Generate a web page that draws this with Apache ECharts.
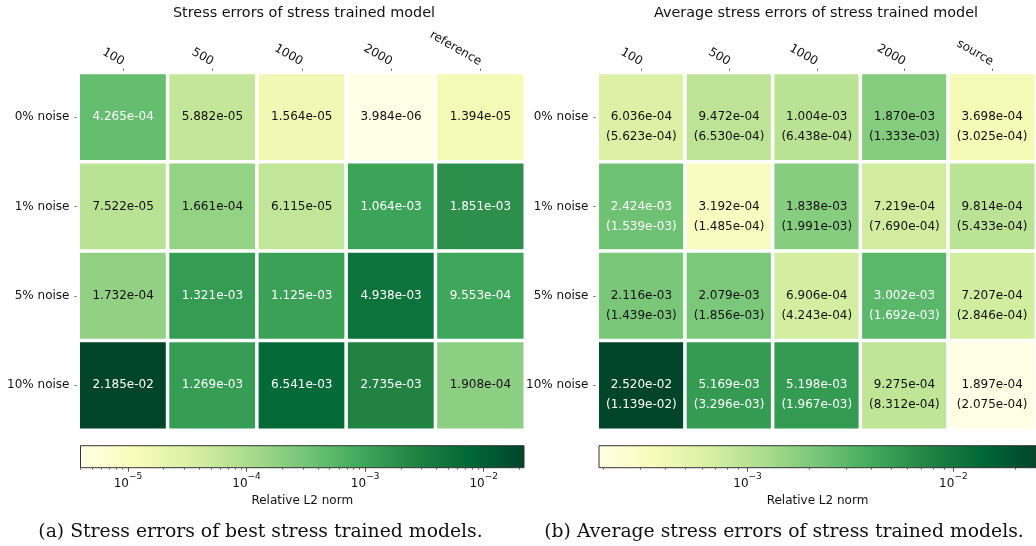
<!DOCTYPE html>
<html>
<head>
<meta charset="utf-8">
<script src="https://cdn.jsdelivr.net/npm/echarts@6/dist/echarts.min.js"></script>
<style>
  html, body { margin: 0; padding: 0; background: #ffffff; }
  #chart { width: 1036px; height: 546px; }
</style>
</head>
<body>
<div id="chart"></div>
<script>
// Row / column labels
const rowLabels = ['0% noise', '1% noise', '5% noise', '10% noise'];
const bestCols = ['100', '500', '1000', '2000', 'reference'];
const avgCols = ['100', '500', '1000', '2000', 'source'];

// (a) best stress errors, one row per noise level
const bestErrors = [
  [4.265e-04, 5.882e-05, 1.564e-05, 3.984e-06, 1.394e-05],
  [7.522e-05, 1.661e-04, 6.115e-05, 1.064e-03, 1.851e-03],
  [1.732e-04, 1.321e-03, 1.125e-03, 4.938e-03, 9.553e-04],
  [2.185e-02, 1.269e-03, 6.541e-03, 2.735e-03, 1.908e-04]
];

// (b) average stress errors and their standard deviations
const avgErrors = [
  [6.036e-04, 9.472e-04, 1.004e-03, 1.870e-03, 3.698e-04],
  [2.424e-03, 3.192e-04, 1.838e-03, 7.219e-04, 9.814e-04],
  [2.116e-03, 2.079e-03, 6.906e-04, 3.002e-03, 7.207e-04],
  [2.520e-02, 5.169e-03, 5.198e-03, 9.275e-04, 1.897e-04]
];
const avgStd = [
  [5.623e-04, 6.530e-04, 6.438e-04, 1.333e-03, 3.025e-04],
  [1.539e-03, 1.485e-04, 1.991e-03, 7.690e-04, 5.433e-04],
  [1.439e-03, 1.856e-03, 4.243e-04, 1.692e-03, 2.846e-04],
  [1.139e-02, 3.296e-03, 1.967e-03, 8.312e-04, 2.075e-04]
];

// YlGn colour map
const YLGN = ['#ffffe5', '#f7fcb9', '#d9f0a3', '#addd8e', '#78c679',
              '#41ab5d', '#238443', '#006837', '#004529'];

const FONT = 'DejaVu Sans';

function sci(v) {
  const parts = v.toExponential(3).split('e');
  const n = parseInt(parts[1], 10);
  return parts[0] + 'e' + (n < 0 ? '-' : '+') + String(Math.abs(n)).padStart(2, '0');
}

function logRange(table) {
  const flat = table.flat();
  return [Math.log10(Math.min(...flat)), Math.log10(Math.max(...flat))];
}

function cells(vals, std, lo, hi) {
  const out = [];
  vals.forEach((row, r) => row.forEach((v, c) => {
    const lv = Math.log10(v);
    const t = (lv - lo) / (hi - lo);
    out.push({
      value: [c, r, lv],
      raw: v,
      sd: std ? std[r][c] : null,
      label: { color: t > 0.5 ? '#ffffff' : '#111111' }
    });
  }));
  return out;
}

function majorTicks(lo, hi) {
  const out = [];
  for (let n = Math.ceil(lo); n <= Math.floor(hi); n++) out.push(n);
  return out;
}
function minorTicks(lo, hi) {
  const out = [];
  for (let n = Math.floor(lo); n <= Math.ceil(hi); n++) {
    for (let k = 2; k <= 9; k++) {
      const v = n + Math.log10(k);
      if (v >= lo && v <= hi) out.push(v);
    }
  }
  return out;
}

const [bLo, bHi] = logRange(bestErrors);
const [aLo, aHi] = logRange(avgErrors);

const heatGrids = [
  { left: 78.5, top: 72.7, width: 446.5, height: 357.3 },
  { left: 597.5, top: 72.7, width: 446.5, height: 357.3 }
];
const barGrids = [
  { left: 80.5, top: 445.7, width: 443.5, height: 22 },
  { left: 599, top: 445.7, width: 443, height: 22 }
];

function heatX(i, cols) {
  return {
    type: 'category', gridIndex: i, data: cols, position: 'top',
    axisLine: { show: false },
    splitLine: { show: false },
    axisTick: { show: true, alignWithLabel: true, length: 4, lineStyle: { color: '#333', width: 0.8 } },
    axisLabel: { rotate: 30, margin: 10, fontFamily: FONT, fontSize: 12, color: '#111' }
  };
}
function heatY(i) {
  return {
    type: 'category', gridIndex: i, data: rowLabels, inverse: true,
    axisLine: { show: false },
    splitLine: { show: false },
    axisTick: { show: true, alignWithLabel: true, length: 4, lineStyle: { color: '#333', width: 0.8 } },
    axisLabel: { margin: 9, fontFamily: FONT, fontSize: 12, color: '#111' }
  };
}
function barMajorX(i, lo, hi) {
  const majors = majorTicks(lo, hi);
  return {
    type: 'value', gridIndex: i, min: lo, max: hi, position: 'bottom',
    axisLine: { show: false }, splitLine: { show: false },
    axisTick: { show: true, customValues: majors, length: 4, lineStyle: { color: '#222', width: 0.8 } },
    axisLabel: {
      customValues: majors, margin: 4, color: '#111',
      formatter: v => '{b|10}{s|\u2212' + Math.abs(Math.round(v)) + '}',
      rich: {
        b: { fontFamily: FONT, fontSize: 12, color: '#111', verticalAlign: 'bottom', lineHeight: 18 },
        s: { fontFamily: FONT, fontSize: 9, color: '#111', verticalAlign: 'top', lineHeight: 18 }
      }
    },
    name: 'Relative L2 norm', nameLocation: 'middle', nameGap: 27,
    nameTextStyle: { fontFamily: FONT, fontSize: 12, color: '#111' }
  };
}
function barMinorX(i, lo, hi) {
  return {
    type: 'value', gridIndex: i, min: lo, max: hi, position: 'bottom',
    axisLine: { show: false }, splitLine: { show: false },
    axisTick: { show: true, customValues: minorTicks(lo, hi), length: 2.2, lineStyle: { color: '#222', width: 0.6 } },
    axisLabel: { show: false }
  };
}
function barY(i) {
  return { type: 'value', gridIndex: i, min: 0, max: 1, show: false };
}

function colorBar(xi, yi, lo, hi) {
  const stops = YLGN.map((c, k) => ({ offset: k / (YLGN.length - 1), color: c }));
  return {
    type: 'custom', xAxisIndex: xi, yAxisIndex: yi, silent: true,
    data: [[lo, hi]],
    encode: { x: [0, 1] },
    renderItem: (params, api) => {
      const p0 = api.coord([api.value(0), 0]);
      const p1 = api.coord([api.value(1), 1]);
      return {
        type: 'rect',
        shape: { x: p0[0], y: p1[1], width: p1[0] - p0[0], height: p0[1] - p1[1] },
        style: {
          fill: new echarts.graphic.LinearGradient(0, 0, 1, 0, stops),
          stroke: '#333', lineWidth: 1
        }
      };
    }
  };
}

const chart = echarts.init(document.getElementById('chart'), null, { renderer: 'canvas' });

chart.setOption({
  backgroundColor: '#ffffff',
  animation: false,
  grid: [...heatGrids, ...barGrids],
  xAxis: [
    heatX(0, bestCols), heatX(1, avgCols),
    barMajorX(2, bLo, bHi), barMajorX(3, aLo, aHi),
    barMinorX(2, bLo, bHi), barMinorX(3, aLo, aHi)
  ],
  yAxis: [heatY(0), heatY(1), barY(2), barY(3)],
  visualMap: [
    { type: 'continuous', show: false, seriesIndex: 0, dimension: 2, min: bLo, max: bHi, inRange: { color: YLGN } },
    { type: 'continuous', show: false, seriesIndex: 1, dimension: 2, min: aLo, max: aHi, inRange: { color: YLGN } }
  ],
  series: [
    {
      type: 'heatmap', xAxisIndex: 0, yAxisIndex: 0,
      data: cells(bestErrors, null, bLo, bHi),
      itemStyle: { borderColor: '#ffffff', borderWidth: 3.5 },
      emphasis: { disabled: true },
      label: {
        show: true, fontFamily: FONT, fontSize: 12,
        formatter: p => sci(p.data.raw)
      }
    },
    {
      type: 'heatmap', xAxisIndex: 1, yAxisIndex: 1,
      data: cells(avgErrors, avgStd, aLo, aHi),
      itemStyle: { borderColor: '#ffffff', borderWidth: 3.5 },
      emphasis: { disabled: true },
      label: {
        show: true, fontFamily: FONT, fontSize: 12, lineHeight: 20, offset: [0, 10],
        formatter: p => sci(p.data.raw) + '\n(' + sci(p.data.sd) + ')'
      }
    },
    colorBar(2, 2, bLo, bHi),
    colorBar(3, 3, aLo, aHi)
  ],
  graphic: [
    { type: 'text', x: 304, y: 13, style: { text: 'Stress errors of stress trained model', font: '14.4px "DejaVu Sans"', fill: '#111', align: 'center', verticalAlign: 'middle' } },
    { type: 'text', x: 816, y: 13, style: { text: 'Average stress errors of stress trained model', font: '14.4px "DejaVu Sans"', fill: '#111', align: 'center', verticalAlign: 'middle' } },
    { type: 'text', x: 260.5, y: 532, style: { text: '(a) Stress errors of best stress trained models.', font: '18.8px "DejaVu Serif"', fill: '#111', align: 'center', verticalAlign: 'middle' } },
    { type: 'text', x: 784, y: 532, style: { text: '(b) Average stress errors of stress trained models.', font: '18.8px "DejaVu Serif"', fill: '#111', align: 'center', verticalAlign: 'middle' } }
  ]
});
</script>
</body>
</html>
